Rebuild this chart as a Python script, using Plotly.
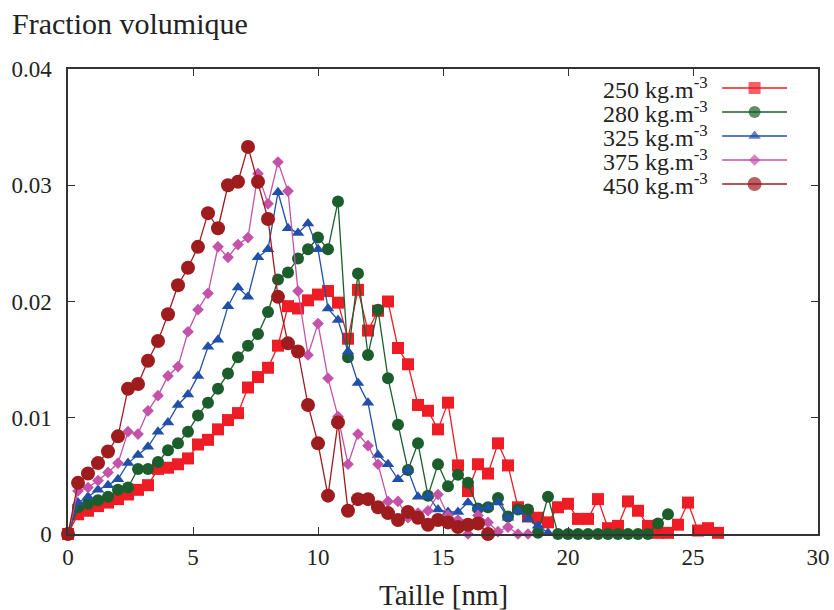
import plotly.graph_objects as go

# ---------------- data ----------------
TAILLE = [0.0, 0.4, 0.8, 1.2, 1.6, 2.0, 2.4, 2.8, 3.2, 3.6, 4.0, 4.4, 4.8, 5.2, 5.6, 6.0,
          6.4, 6.8, 7.2, 7.6, 8.0, 8.4, 8.8, 9.2, 9.6, 10.0, 10.4, 10.8, 11.2, 11.6, 12.0,
          12.4, 12.8, 13.2, 13.6, 14.0, 14.4, 14.8, 15.2, 15.6, 16.0, 16.4, 16.8, 17.2, 17.6,
          18.0, 18.4, 18.8, 19.2, 19.6, 20.0, 20.4, 20.8, 21.2, 21.6, 22.0, 22.4, 22.8, 23.2,
          23.6, 24.0, 24.4, 24.8, 25.2, 25.6, 26.0]

V250 = [0, 0.0017, 0.0020, 0.0024, 0.0027, 0.0030, 0.0034, 0.0038, 0.0042, 0.0056, 0.0057,
        0.0060, 0.0065, 0.0077, 0.0081, 0.0090, 0.0098, 0.0104, 0.0126, 0.0135, 0.0143,
        0.0162, 0.0196, 0.0194, 0.0201, 0.0206, 0.0209, 0.0199, 0.0168, 0.0210, 0.0175,
        0.0192, 0.0200, 0.0160, 0.0146, 0.0111, 0.0106, 0.0090, 0.0113, 0.0059, 0.0037,
        0.0060, 0.0052, 0.0078, 0.0059, 0.0023, 0.0015, 0.0014, 0.0010, 0.0023, 0.0026,
        0.0013, 0.0013, 0.0030, 0.0005, 0.0007, 0.0028, 0.0020, 0.0007, 0.0001, 0.0001,
        0.0008, 0.0027, 0.0003, 0.0005, 0.0001]

V280 = [0, 0.0023, 0.0026, 0.0029, 0.0032, 0.0038, 0.0040, 0.0056, 0.0056, 0.0062, 0.0072,
        0.0078, 0.0088, 0.0102, 0.0113, 0.0125, 0.0138, 0.0152, 0.0162, 0.0172, 0.0191,
        0.0219, 0.0225, 0.0237, 0.0245, 0.0255, 0.0245, 0.0286, 0.0152, 0.0224, 0.0154,
        0.0193, 0.0134, 0.0094, 0.0055, 0.0078, 0.0033, 0.0060, 0.0041, 0.0051, 0.0044,
        0.0022, 0.0023, 0.0031, 0.0015, 0.0021, 0.0021, 0.0001, 0.0032, 0, 0,
        0, 0, 0, 0, 0, 0, 0, 0, 0.0009, 0.0017]

V325 = [0, 0.0027, 0.0032, 0.0038, 0.0042, 0.0047, 0.0061, 0.0068, 0.0075, 0.0088, 0.0096,
        0.0111, 0.0120, 0.0136, 0.0161, 0.0167, 0.0196, 0.0212, 0.0204, 0.0238, 0.0245,
        0.0294, 0.0263, 0.0259, 0.0267, 0.0245, 0.0194, 0.0184, 0.0157, 0.0130, 0.0113,
        0.0068, 0.0060, 0.0047, 0.0055, 0.0032, 0.0033, 0.0021, 0.0019, 0.0019, 0.0027,
        0.0022, 0.0023, 0.0027, 0.0014, 0.0020, 0.0013, 0.0007, 0.0001]

V375 = [0, 0.0037, 0.0040, 0.0046, 0.0053, 0.0061, 0.0088, 0.0086, 0.0106, 0.0119, 0.0136,
        0.0144, 0.0174, 0.0193, 0.0207, 0.0247, 0.0238, 0.0249, 0.0255, 0.0310, 0.0284,
        0.0320, 0.0295, 0.0209, 0.0154, 0.0181, 0.0134, 0.0101, 0.0060, 0.0086, 0.0076,
        0.0060, 0.0028, 0.0028, 0.0014, 0.0018, 0.0020, 0.0034, 0.0016, 0.0012, 0,
        0.0016, 0.0010, 0.0002, 0.0006, 0, 0]

V450 = [0, 0.0044, 0.0052, 0.0061, 0.0071, 0.0084, 0.0125, 0.0129, 0.0149, 0.0166, 0.0189,
        0.0214, 0.0229, 0.0247, 0.0276, 0.0263, 0.0300, 0.0303, 0.0333, 0.0303, 0.0271,
        0.0204, 0.0164, 0.0157, 0.0111, 0.0078, 0.0033, 0.0096, 0.0020, 0.0030, 0.0030,
        0.0023, 0.0018, 0.0012, 0.0019, 0.0014, 0.0008, 0.0012, 0.0010, 0.0006, 0.0008,
        0.0009, 0]

LABELS = ["250 kg.m<sup>-3</sup>", "280 kg.m<sup>-3</sup>", "325 kg.m<sup>-3</sup>",
          "375 kg.m<sup>-3</sup>", "450 kg.m<sup>-3</sup>"]
X_TICKS = [0, 5, 10, 15, 20, 25, 30]
Y_TICKS = [0, 0.01, 0.02, 0.03, 0.04]
Y_TICK_TEXT = ["0", "0.01", "0.02", "0.03", "0.04"]

# ---------------- styles ----------------
FONT = "Liberation Serif"
STYLES = [
    dict(color="#ee1c25", symbol="square", size=12),
    dict(color="#1b5e2b", symbol="circle", size=12),
    dict(color="#2150a8", symbol="triangle-up", size=11),
    dict(color="#c452a9", symbol="diamond", size=9),
    dict(color="#9e1b1e", symbol="circle", size=14),
]
SERIES = [V250, V280, V325, V375, V450]

fig = go.Figure()
for vals, st, lab in zip(SERIES, STYLES, LABELS):
    fig.add_trace(go.Scatter(
        x=TAILLE[:len(vals)], y=vals, mode="lines+markers", name=lab,
        line=dict(color=st["color"], width=1.3),
        marker=dict(color=st["color"], symbol=st["symbol"], size=st["size"], line=dict(width=0)),
        cliponaxis=False, showlegend=False,
    ))

# custom legend (text left of sample, like gnuplot) on an overlay axis in pixel units
PW, PH = 751, 465
row_y = [446, 422, 398, 374, 350]
for lab, st, yy in zip(LABELS, STYLES, row_y):
    fig.add_trace(go.Scatter(
        x=[655, 687.5, 720], y=[yy, yy, yy], xaxis="x2", yaxis="y2",
        mode="lines+markers", line=dict(color=st["color"], width=1.3),
        marker=dict(color=st["color"], symbol=st["symbol"], size=[0, st["size"], 0], line=dict(width=0)),
        showlegend=False, hoverinfo="skip", cliponaxis=False,
    ))
    fig.add_annotation(x=643, y=yy, xref="x2", yref="y2", text=lab, showarrow=False,
                       xanchor="right", yanchor="middle",
                       font=dict(family=FONT, size=24, color="#222"))

axis_common = dict(showline=True, linecolor="#333", linewidth=1.5, mirror="ticks",
                   ticks="inside", ticklen=7, tickwidth=1.2, tickcolor="#333",
                   showgrid=False, zeroline=False, automargin=False,
                   tickfont=dict(family=FONT, size=23, color="#222"))

fig.update_layout(
    width=834, height=610,
    margin=dict(l=67.5, r=15.5, t=69, b=76, autoexpand=False),
    plot_bgcolor="white", paper_bgcolor="white",
    xaxis=dict(range=[0, 30], tickvals=X_TICKS, ticklabelstandoff=2, **axis_common),
    yaxis=dict(range=[0, 0.04], tickvals=Y_TICKS, ticktext=Y_TICK_TEXT, ticklabelstandoff=10, **axis_common),
    xaxis2=dict(range=[0, PW], overlaying="x", visible=False, fixedrange=True),
    yaxis2=dict(range=[0, PH], overlaying="y", visible=False, fixedrange=True),
    title=dict(text="Fraction volumique", x=12 / 834, xanchor="left", xref="container",
               y=1 - 23 / 610, yanchor="middle", yref="container",
               font=dict(family=FONT, size=30, color="#222")),
)
fig.add_annotation(x=0.5, y=-(595 - 534) / 465, xref="paper", yref="paper", text="Taille [nm]",
                   showarrow=False, xanchor="center", yanchor="middle",
                   font=dict(family=FONT, size=29, color="#222"))

fig.write_html("out.html", config={"displayModeBar": False},
               post_script="document.body.style.margin='0';")
